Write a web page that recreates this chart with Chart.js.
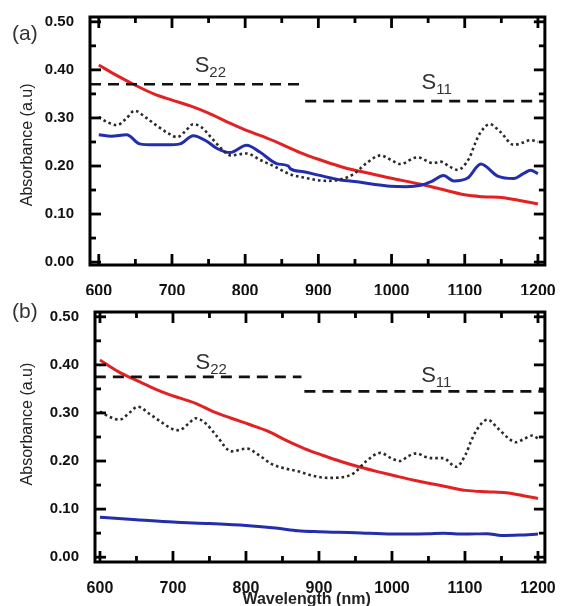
<!DOCTYPE html>
<html><head><meta charset="utf-8">
<script src="https://cdn.jsdelivr.net/npm/chart.js@4"></script>
<style>
html,body{margin:0;padding:0;background:#fff;overflow:hidden;width:565px;height:606px}
canvas{position:absolute;left:0}
#ca{top:0}
#cb{top:295px}
</style></head><body>
<canvas id="ca" width="565" height="295"></canvas>
<canvas id="cb" width="565" height="311"></canvas>
<script>
const FONT = "'Liberation Sans', Arial, Helvetica, sans-serif";
// tick labels
const xTicks = [600, 700, 800, 900, 1000, 1100, 1200];
const xMinorTicks = [650, 750, 850, 950, 1050, 1150];
const yTicks = [0.00, 0.10, 0.20, 0.30, 0.40, 0.50];
const yMinorTicks = [0.05, 0.15, 0.25, 0.35, 0.45];

// ---- panel (a) ----
const redA_x = [600, 625, 650, 675, 700, 725, 750, 775, 800, 825, 850, 875, 900, 930, 950, 975, 998, 1040, 1067, 1100, 1125, 1153, 1175, 1200];
const redA_y = [0.410, 0.388, 0.368, 0.350, 0.337, 0.325, 0.310, 0.292, 0.275, 0.261, 0.245, 0.228, 0.214, 0.199, 0.191, 0.183, 0.175, 0.162, 0.152, 0.140, 0.136, 0.134, 0.128, 0.121];
const blueA_x = [600, 617, 638, 656, 675, 693, 711, 729, 748, 761, 779, 802, 820, 843, 859, 862, 880, 900, 930, 953, 975, 998, 1020, 1040, 1055, 1071, 1085, 1104, 1122, 1145, 1167, 1180, 1190, 1200];
const blueA_y = [0.265, 0.262, 0.265, 0.246, 0.244, 0.244, 0.246, 0.263, 0.251, 0.237, 0.228, 0.243, 0.229, 0.205, 0.200, 0.194, 0.188, 0.181, 0.171, 0.167, 0.162, 0.158, 0.157, 0.160, 0.168, 0.180, 0.169, 0.175, 0.204, 0.179, 0.174, 0.184, 0.191, 0.184];
const dotA_x = [600, 612, 625, 637, 649, 665, 680, 695, 707, 718, 729, 740, 752, 765, 780, 802, 820, 840, 861, 880, 912, 930, 948, 965, 985, 1000, 1012, 1035, 1057, 1067, 1080, 1090, 1106, 1115, 1122, 1134, 1148, 1167, 1180, 1190, 1200];
const dotA_y = [0.302, 0.291, 0.285, 0.298, 0.315, 0.300, 0.283, 0.268, 0.260, 0.272, 0.287, 0.281, 0.262, 0.240, 0.222, 0.226, 0.213, 0.199, 0.183, 0.176, 0.169, 0.172, 0.183, 0.205, 0.222, 0.212, 0.204, 0.218, 0.206, 0.209, 0.198, 0.192, 0.216, 0.250, 0.271, 0.287, 0.272, 0.244, 0.249, 0.254, 0.250];
const s22A_x = [588, 878];
const s22A_y = [0.370, 0.370];
const s11A_x = [882, 1210];
const s11A_y = [0.335, 0.335];

// ---- panel (b) ----
const redB_x = [600, 625, 654, 675, 695, 731, 755, 780, 805, 830, 855, 880, 905, 930, 957, 980, 1002, 1030, 1060, 1080, 1101, 1130, 1156, 1180, 1200];
const redB_y = [0.410, 0.386, 0.365, 0.350, 0.338, 0.320, 0.303, 0.289, 0.276, 0.262, 0.243, 0.226, 0.212, 0.199, 0.187, 0.178, 0.170, 0.160, 0.151, 0.145, 0.139, 0.136, 0.134, 0.128, 0.122];
const blueB_x = [600, 650, 700, 750, 800, 844, 871, 900, 950, 1000, 1050, 1070, 1100, 1130, 1150, 1175, 1200];
const blueB_y = [0.083, 0.078, 0.073, 0.070, 0.066, 0.060, 0.055, 0.053, 0.051, 0.048, 0.049, 0.050, 0.048, 0.049, 0.045, 0.046, 0.048];
const dotB_x = [600, 613, 627, 640, 652, 668, 685, 700, 708, 720, 731, 745, 760, 780, 801, 818, 835, 855, 871, 890, 912, 930, 948, 965, 984, 1000, 1011, 1022, 1034, 1045, 1056, 1070, 1088, 1101, 1108, 1115, 1131, 1145, 1160, 1169, 1180, 1192, 1200];
const dotB_y = [0.303, 0.292, 0.286, 0.300, 0.313, 0.298, 0.280, 0.266, 0.264, 0.276, 0.289, 0.278, 0.252, 0.220, 0.226, 0.212, 0.194, 0.184, 0.179, 0.170, 0.165, 0.166, 0.175, 0.200, 0.217, 0.205, 0.200, 0.210, 0.216, 0.209, 0.206, 0.206, 0.188, 0.214, 0.240, 0.262, 0.286, 0.268, 0.247, 0.239, 0.245, 0.253, 0.247];
const s22B_x = [593, 876];
const s22B_y = [0.375, 0.375];
const s11B_x = [880, 1210];
const s11B_y = [0.345, 0.345];

const pts = (xs, ys) => xs.map((x, i) => ({x, y: ys[i]}));
const RED = 'rgb(226,34,34)', BLUE = 'rgb(34,46,172)', DOT = '#2a2a2a';

function line(ctx, x1, y1, x2, y2) { ctx.beginPath(); ctx.moveTo(x1, y1); ctx.lineTo(x2, y2); ctx.stroke(); }

const framePlugin = {
  id: 'frame',
  afterDraw(chart, args, o) {
    const {ctx, chartArea: {left, right, top, bottom}, scales: {x, y}} = chart;
    ctx.save();
    ctx.strokeStyle = '#000';
    ctx.lineCap = 'butt';
    ctx.lineWidth = 2.8;
    const MJ = 11, MN = 6;
    xTicks.forEach(v => { const p = x.getPixelForValue(v); line(ctx, p, bottom, p, bottom - MJ); line(ctx, p, top, p, top + MJ); });
    xMinorTicks.forEach(v => { const p = x.getPixelForValue(v); line(ctx, p, bottom, p, bottom - MN); line(ctx, p, top, p, top + MN); });
    yTicks.forEach(v => { const p = y.getPixelForValue(v); line(ctx, left, p, left + MJ, p); line(ctx, right, p, right - MJ, p); });
    yMinorTicks.forEach(v => { const p = y.getPixelForValue(v); line(ctx, left, p, left + MN, p); line(ctx, right, p, right - MN, p); });
    ctx.lineWidth = 3;
    ctx.strokeRect(left, top, right - left, bottom - top);

    // panel label
    ctx.fillStyle = '#333';
    ctx.textBaseline = 'middle';
    ctx.textAlign = 'left';
    ctx.font = '21px ' + FONT;
    ctx.fillText(o.panel, 12, top + o.panelDy);

    // S labels
    ctx.textBaseline = 'alphabetic';
    o.sLabels.forEach(s => {
      const px = x.getPixelForValue(s.x), py = y.getPixelForValue(s.y);
      ctx.font = '22px ' + FONT;
      ctx.fillText('S', px, py);
      const w = ctx.measureText('S').width;
      ctx.font = '15px ' + FONT;
      ctx.fillText(s.sub, px + w, py + 5);
    });

    // y axis title
    ctx.fillStyle = '#222';
    ctx.save();
    ctx.translate(28, y.getPixelForValue(o.yTitleAt));
    ctx.rotate(-Math.PI / 2);
    ctx.textAlign = 'center';
    ctx.textBaseline = 'middle';
    ctx.font = '16px ' + FONT;
    ctx.fillText('Absorbance (a.u)', 0, 0);
    ctx.restore();

    if (o.xTitle) {
      ctx.textAlign = 'center';
      ctx.textBaseline = 'middle';
      ctx.font = 'bold 16px ' + FONT;
      ctx.fillText(o.xTitle, x.getPixelForValue(o.xTitleAt), bottom + 38);
    }
    ctx.restore();
  }
};

function makeChart(id, cfg) {
  const tickFont = {family: FONT, size: 16, weight: 'bold'};
  return new Chart(document.getElementById(id), {
    type: 'line',
    data: {
      datasets: [
        {data: pts(cfg.s22x, cfg.s22y), borderColor: '#111', borderWidth: 2.6, borderDash: [11, 7], pointRadius: 0, tension: 0},
        {data: pts(cfg.s11x, cfg.s11y), borderColor: '#111', borderWidth: 2.6, borderDash: [11, 7], pointRadius: 0, tension: 0},
        {data: pts(cfg.dotx, cfg.doty), borderColor: DOT, borderWidth: 2.6, borderDash: [2.6, 3], pointRadius: 0, cubicInterpolationMode: 'monotone'},
        {data: pts(cfg.bluex, cfg.bluey), borderColor: BLUE, borderWidth: 3, pointRadius: 0, cubicInterpolationMode: 'monotone'},
        {data: pts(cfg.redx, cfg.redy), borderColor: RED, borderWidth: 3, pointRadius: 0, cubicInterpolationMode: 'monotone'}
      ]
    },
    options: {
      responsive: false,
      animation: false,
      events: [],
      layout: {padding: {top: cfg.top, right: cfg.right, left: 0, bottom: 0}},
      plugins: {legend: {display: false}, tooltip: {enabled: false}, frame: cfg.frame},
      scales: {
        x: {
          type: 'linear', min: cfg.xmin, max: cfg.xmax,
          afterBuildTicks: a => { a.ticks = xTicks.map(v => ({value: v})); },
          afterFit: a => { a.height = cfg.xh; },
          grid: {display: false}, border: {display: false},
          ticks: {font: tickFont, color: '#111', padding: 9, maxRotation: 0, autoSkip: false, callback: v => String(v)}
        },
        y: {
          type: 'linear', min: cfg.ymin, max: cfg.ymax,
          afterBuildTicks: a => { a.ticks = yTicks.map(v => ({value: v})); },
          afterFit: a => { a.width = cfg.yw; },
          grid: {display: false}, border: {display: false},
          ticks: {font: {family: FONT, size: 15, weight: 'bold'}, color: '#111', padding: 8, autoSkip: false, callback: v => Number(v).toFixed(2)}
        }
      }
    },
    plugins: [framePlugin]
  });
}

makeChart('ca', {
  redx: redA_x, redy: redA_y, bluex: blueA_x, bluey: blueA_y, dotx: dotA_x, doty: dotA_y,
  s22x: s22A_x, s22y: s22A_y, s11x: s11A_x, s11y: s11A_y,
  xmin: 588, xmax: 1209.5, ymin: -0.006, ymax: 0.51,
  top: 14, right: 18, xh: 30, yw: 90,
  frame: {panel: '(a)', panelDy: 17, yTitleAt: 0.244,
    sLabels: [{x: 731, y: 0.395, sub: '22'}, {x: 1041, y: 0.360, sub: '11'}]}
});
makeChart('cb', {
  redx: redB_x, redy: redB_y, bluex: blueB_x, bluey: blueB_y, dotx: dotB_x, doty: dotB_y,
  s22x: s22B_x, s22y: s22B_y, s11x: s11B_x, s11y: s11B_y,
  xmin: 593.2, xmax: 1209.5, ymin: -0.010, ymax: 0.51,
  top: 15, right: 15, xh: 44, yw: 95,
  frame: {panel: '(b)', panelDy: 0, yTitleAt: 0.277, xTitle: 'Wavelength (nm)', xTitleAt: 883,
    sLabels: [{x: 731, y: 0.391, sub: '22'}, {x: 1040, y: 0.364, sub: '11'}]}
});
</script>
</body></html>
